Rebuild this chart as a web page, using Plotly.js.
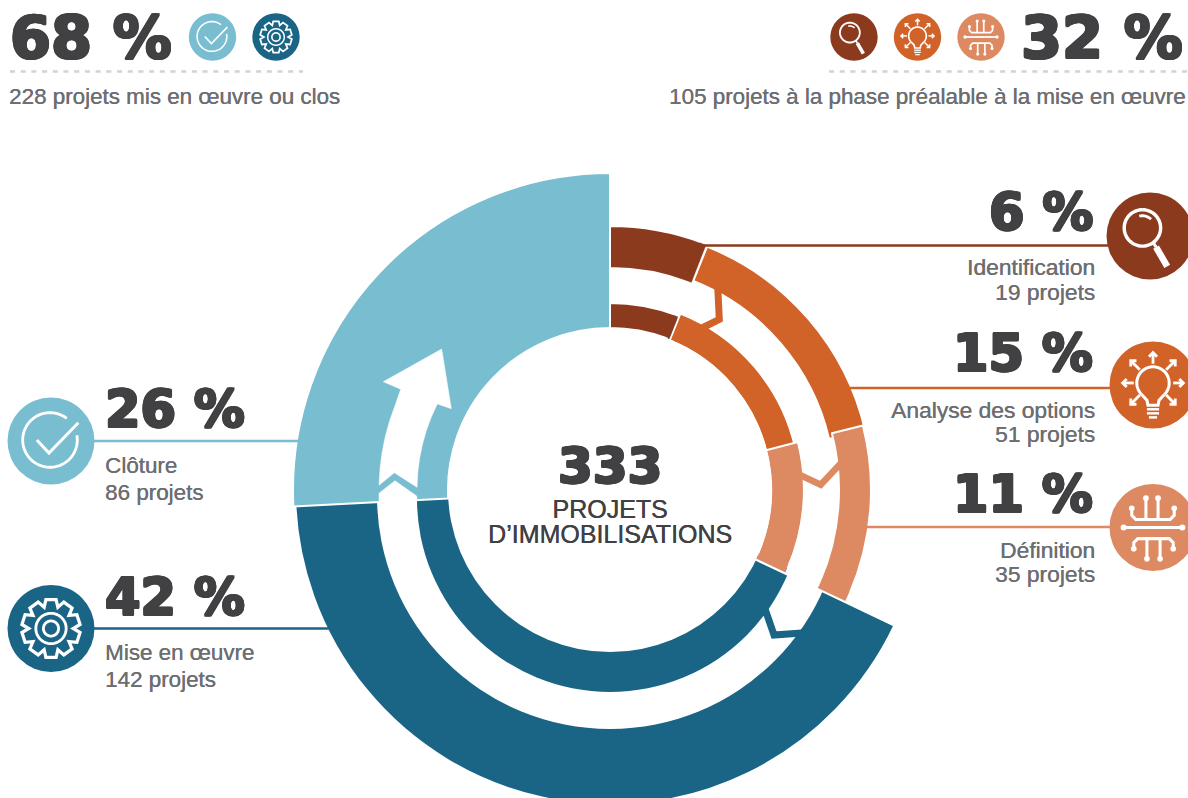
<!DOCTYPE html>
<html><head><meta charset="utf-8">
<script src="https://cdn.plot.ly/plotly-3.0.1.min.js"></script>
<style>html,body{margin:0;padding:0;width:1188px;height:798px;overflow:hidden;background:#fff}#chart{width:1188px;height:820px}</style>
</head><body><div id="chart"></div>
<script>
// ---- data ----
const categories = ["Identification","Analyse des options","Définition","Mise en œuvre","Clôture"];
const projects   = [19, 51, 35, 142, 86];
const percents   = [6, 15, 11, 42, 26];
const colors     = ["#8B3A1E","#D16228","#DD8A63","#1A6585","#79BDD0"];
const groupLeft  = {percent:68, projects:228, text:"projets mis en œuvre ou clos"};
const groupRight = {percent:32, projects:105, text:"projets à la phase préalable à la mise en œuvre"};
const totalProjects = 333;
const centerLines = ["PROJETS","D’IMMOBILISATIONS"];
// ring radii (style): [outer, inner] per category
const outerRing = [[263,223],[261,226],[260,230],[314,200],[316,163]];
const innerRing = [[186,163],[189,162],[193,162],null,null];
// small angular offsets of the drawn slices (style), degrees
const nudge = [0,1.2,0,2,0];

const W=1188,H=820,CX=610,CY=490;
const INK="#414042",GREY="#6D6E71";
const X=p=>p/W, Y=p=>1-p/H;

function ring(idx,r){
  const R=r[0]+1, hole=(r[1]-1)/R;
  return {type:"pie",values:projects,labels:categories,sort:false,direction:"clockwise",rotation:nudge[idx],
    hole:hole,textinfo:"none",hoverinfo:"label+value",showlegend:false,
    domain:{x:[X(CX-R),X(CX+R)],y:[Y(CY+R),Y(CY-R)]},
    marker:{colors:categories.map((c,i)=>i===idx?colors[i]:"rgba(0,0,0,0)"),
            line:{color:categories.map((c,i)=>i===idx?"#fff":"rgba(0,0,0,0)"),width:categories.map((c,i)=>i===idx?2:0)}}};
}
function fullDisc(cx,cy,r,color,name,value){
  return {type:"pie",values:[value],labels:[name],sort:false,textinfo:"none",hoverinfo:"skip",showlegend:false,
    domain:{x:[X(cx-r),X(cx+r)],y:[Y(cy+r),Y(cy-r)]},marker:{colors:[color],line:{width:0}}};
}
const traces=[
  ring(3,outerRing[3]),
  fullDisc(610,496,233,"#fff","gap",totalProjects),
  fullDisc(610,499,193,colors[3],categories[3],projects[3]),
  ring(0,outerRing[0]),ring(1,outerRing[1]),ring(2,outerRing[2]),
  ring(0,innerRing[0]),ring(1,innerRing[1]),ring(2,innerRing[2]),
  ring(4,outerRing[4])
];

const shapes=[];
const path=(pts,close)=>"M"+pts.map(p=>X(p[0]).toFixed(5)+" "+Y(p[1]).toFixed(5)).join("L")+(close?"Z":"");
function line(pts,color,w,close,fill,dash){
  shapes.push({type:"path",xref:"paper",yref:"paper",path:path(pts,close),
    line:{color:color,width:w,dash:dash||"solid"},fillcolor:fill||"rgba(0,0,0,0)"});
}
function disc(cx,cy,r,color){
  shapes.push({type:"circle",xref:"paper",yref:"paper",x0:X(cx-r),x1:X(cx+r),y0:Y(cy+r),y1:Y(cy-r),
    fillcolor:color,line:{width:0}});
}
function arc(cx,cy,r,a0,a1){ // angles in degrees clockwise from top
  const n=Math.max(6,Math.ceil(Math.abs(a1-a0)/6)),o=[];
  for(let i=0;i<=n;i++){const a=(a0+(a1-a0)*i/n)*Math.PI/180;o.push([cx+r*Math.sin(a),cy-r*Math.cos(a)]);}
  return o;
}
const WH="#fff";
function patch(r0,r1,a0,a1,color){
  line(arc(CX,CY,r1,a0,a1).concat(arc(CX,CY,r0,a1,a0)),color,0.3,true,color);
}
// centre hole
disc(CX,CY,162,WH);
// keeps the gap clean beside Définition
patch(193.6,204,60,115.2,WH);
// slice-end patches
patch(223,263,20,21.4,colors[0]);patch(163,186,20,21.4,colors[0]);
patch(230,260,113,115.2,colors[2]);patch(162,193,113,115.2,colors[2]);
line([[CX+158*Math.sin(115.5*Math.PI/180),CY-158*Math.cos(115.5*Math.PI/180)],[CX+200*Math.sin(115.5*Math.PI/180),CY-200*Math.cos(115.5*Math.PI/180)]],WH,2.2);

// ---- icons, drawn in a 43px-radius frame ----
function icon(kind,cx,cy,R,color){
  disc(cx,cy,R,color);
  const s=R/43,P=(x,y)=>[cx+x*s,cy+y*s],L=(a,w)=>line(a.map(q=>P(q[0],q[1])),WH,w*s);
  const A=(x,y,r,a0,a1,w)=>line(arc(cx+x*s,cy+y*s,r*s,a0,a1),WH,w*s);
  const dot=(x,y,r)=>disc(cx+x*s,cy+y*s,r*s,WH);
  if(kind===0){ // magnifier
    A(-7.5,-8,18,0,360,3.4);
    A(-7.5,-8,12,-15,45,2.8);
    L([[3,6],[6,11]],3);
    L([[6,11],[17,30]],6.5);
  }else if(kind===1){ // bulb with arrows
    A(0,-2,16,-135,135,3);
    L([[-11.3,9.3],[-6,15],[-5,20],[5,20],[6,15],[11.3,9.3]],3);
    L([[-6,24],[6,24]],2.4);L([[-6,28],[6,28]],2.4);L([[-4,32],[4,32]],2.4);
    const arrows=[[[0,-21],[0,-32]],[[13,-15],[22,-24]],[[-13,-15],[-22,-24]],[[20,-2],[30,-2]],[[-19,-2],[-30,-2]],[[13,10],[22,19]],[[-13,10],[-22,19]]];
    arrows.forEach(a=>{
      const d=[a[1][0]-a[0][0],a[1][1]-a[0][1]],n=Math.hypot(d[0],d[1]),ux=d[0]/n,uy=d[1]/n,hs=4;
      const tip=a[1];
      L([a[0],tip],2.8);
      L([[tip[0]+(-ux+uy)*hs,tip[1]+(-uy-ux)*hs],tip,[tip[0]+(-ux-uy)*hs,tip[1]+(-uy+ux)*hs]],2.8);
    });
  }else if(kind===2){ // circuit
    L([[-28,0],[28,0]],3.2);dot(-29,0,3);dot(29,0,3);
    L([[-21,-19],[-21,-12],[-17,-8],[17,-8],[21,-12],[21,-19]],3);
    L([[-7,-29],[-7,-8]],3);L([[5,-29],[5,-8]],3);
    [[-21,-19],[21,-19],[-7,-29],[5,-29]].forEach(d=>dot(d[0],d[1],2.8));
    L([[-19,21],[-19,15],[-15,11],[16,11],[20,15],[20,21]],3);
    L([[-6,31],[-6,11]],3);L([[7,31],[7,11]],3);
    [[-19,21],[20,21],[-6,31],[7,31]].forEach(d=>dot(d[0],d[1],2.8));
  }else if(kind===3){ // gear
    const teeth=10,pts=[];
    for(let i=0;i<teeth;i++){
      const c=i*360/teeth;
      [[22,c-18],[29,c-10],[29,c+10],[22,c+18]].forEach(q=>{
        const a=q[1]*Math.PI/180;pts.push([q[0]*Math.sin(a),-q[0]*Math.cos(a)]);});
    }
    line(pts.map(q=>P(q[0],q[1])),WH,3.2*s,true);
    A(0,0,15,0,360,2.8);A(0,0,7.5,0,360,2.8);
  }else{ // check
    A(-1,-1,27,80,398,2.8);
    L([[-14,-1],[-2,12],[27,-18]],3);
  }
}

// ---- big arrow on Clôture ----
const arrow=[[441.7,349],[383.3,381.7],[400.7,389.3]]
  .concat(arc(CX,CY,231,295.6,271.2).slice(1))
  .concat([[394.3,472.7]])
  .concat(arc(CX,CY,193,270.8,296.5))
  .concat([[451.3,408.7]]);
line(arrow,WH,0.5,true,WH);
line([[379,493.3],[395,480.7],[416.7,496],[417,500],[379,502]],WH,0.5,true,WH);

// ---- connectors between the rings ----
line([[717.7,286],[719.3,319.3],[699,329.5]],colors[1],7);
line([[800,475],[820.7,484.7],[843,461]],colors[2],6.5);
line([[764,606],[774,635],[802,633]],colors[3],7);

// ---- leader lines ----
const leaders=[[703,1112,245.5],[850,1112,388],[867,1112,527],[92,330,628.5],[92,298,441]];
leaders.forEach((l,i)=>line([[l[0],l[2]],[l[1],l[2]]],colors[i],2.6));

// ---- dotted rules ----
line([[10,71.5],[303,71.5]],"#D1D3D4",2.4,false,null,"5px,5.7px");
line([[829,71.5],[1188,71.5]],"#D1D3D4",2.4,false,null,"5px,5.7px");

// ---- icons ----
icon(0,1150,236,43.5,colors[0]);
icon(1,1153,385,43.5,colors[1]);
icon(2,1153,527.5,43.5,colors[2]);
icon(4,51,441,43.5,colors[4]);
icon(3,51,628.5,43.5,colors[3]);
icon(4,212.5,37,23.7,colors[4]);
icon(3,276,37,23.7,colors[3]);
icon(0,854,37,23.7,colors[0]);
icon(1,917.5,37,23.7,colors[1]);
icon(2,981,37,23.7,colors[2]);

// ---- text ----
const ann=[];
const heavy=c=>`1.2px 0 0 ${c}, -1.2px 0 0 ${c}, 0 1px 0 ${c}, 0 -1px 0 ${c}, 1px 1px 0 ${c}, -1px -1px 0 ${c}, 1px -1px 0 ${c}, -1px 1px 0 ${c}`;
const medium=c=>`0.35px 0 0 ${c}`;
function T(text,x,y,anchor,size,color,bold){
  ann.push({text:text,xref:"paper",yref:"paper",x:X(x),y:Y(y),xanchor:anchor,yanchor:"middle",showarrow:false,
    borderpad:0,font:{family:bold?'"DejaVu Sans"':'"Liberation Sans"',size:size,color:color,weight:bold?700:400,shadow:bold?heavy(color):medium(color)}});
}
const BIG=59,MID=51,SUB=22.4,LAB=22.8,LABL=22.4;
T(groupLeft.percent+" %",9,37,"left",BIG,INK,true);
T(groupRight.percent+" %",1184,37,"right",BIG,INK,true);
T(groupLeft.projects+" "+groupLeft.text,8,96,"left",SUB,GREY);
T(groupRight.projects+" "+groupRight.text,1187,96,"right",SUB,GREY);
const rows=[[1094,212,267,292,"right"],[1094,354,410,434,"right"],[1094,494,550,574,"right"],[104,597,652,679,"left"],[104,409,466,492,"left"]];
rows.forEach((r,i)=>{
  const right=r[4]==="right";
  T(percents[i]+" %",r[0],r[1],r[4],MID,INK,true);
  T(categories[i],r[0]+(right?2:-0.5),r[2],r[4],right?LAB:LABL,GREY);
  T(projects[i]+" projets",r[0]+(right?2:-0.5),r[3],r[4],right?LAB:LABL,GREY);
});
T(String(totalProjects),610,466,"center",50,INK,true);
T(centerLines.join("<br>"),610,525,"center",25,INK);

Plotly.newPlot("chart",traces,{width:W,height:H,margin:{l:0,r:0,t:0,b:0},paper_bgcolor:"#fff",plot_bgcolor:"#fff",
  showlegend:false,shapes:shapes,annotations:ann},{displayModeBar:false}).then(gd=>{
    // tighter leading for the two-line centre label
    gd.querySelectorAll(".annotation-text").forEach(t=>{
      const ls=t.querySelectorAll("tspan.line");
      if(ls.length===2) ls[1].setAttribute("dy","25px");
    });
  });
</script></body></html>
